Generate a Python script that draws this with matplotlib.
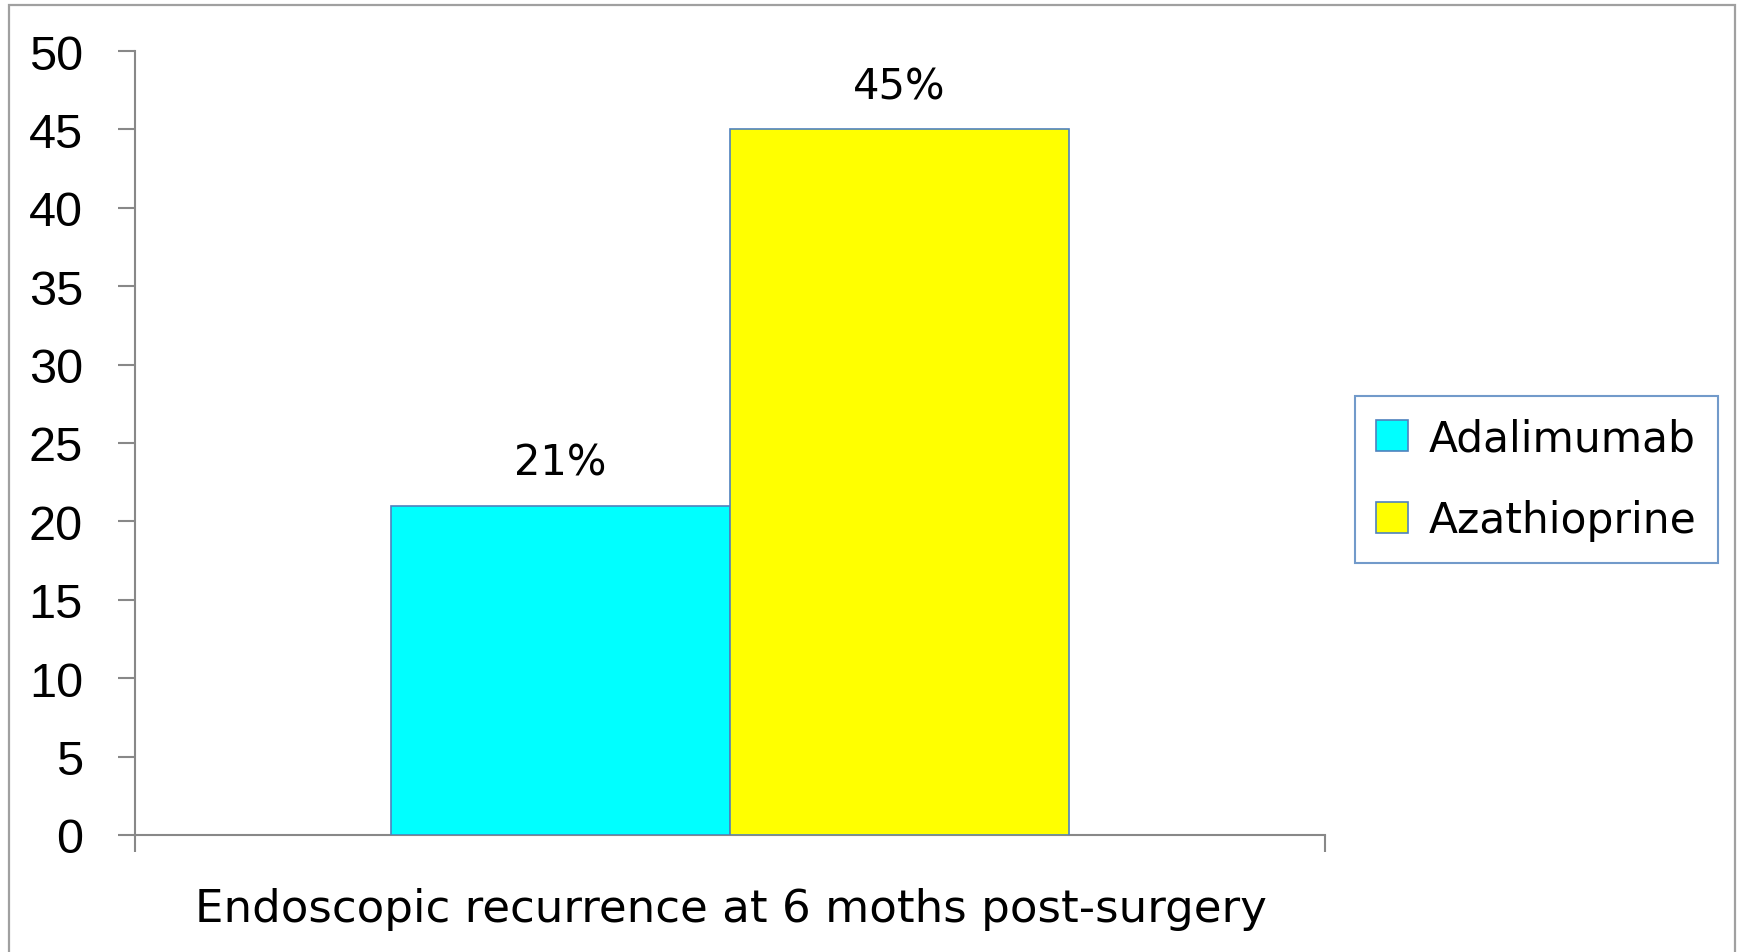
import matplotlib
matplotlib.use("Agg")
import matplotlib.pyplot as plt
from matplotlib.patches import Rectangle, Patch

categories = ["Endoscopic recurrence at 6 moths post-surgery"]
series_names = ["Adalimumab", "Azathioprine"]
series_values = [21, 45]
value_labels = ["21%", "45%"]
y_ticks = [0, 5, 10, 15, 20, 25, 30, 35, 40, 45, 50]

W, H = 1741, 953
fig = plt.figure(figsize=(W / 100, H / 100), dpi=100)
fig.patch.set_facecolor("white")

# outer chart frame
fig.patches.append(Rectangle((9 / W, -0.05), (1735 - 9) / W, 1.05 - 6 / H,
                             transform=fig.transFigure, fill=False,
                             edgecolor="#a0a0a0", linewidth=1.6))

ax = fig.add_axes([135 / W, (H - 836) / H, (1325 - 135) / W, (836 - 52) / H])
colors = ["#00ffff", "#ffff00"]
edge = "#4f81bd"
bar_w = 0.285
offsets = [-bar_w / 2, bar_w / 2]
for name, val, lab, col, off in zip(series_names, series_values, value_labels, colors, offsets):
    ax.bar(off, val, width=bar_w, color=col, edgecolor=edge, linewidth=1.2, label=name, zorder=3)
    ax.annotate(lab, (off, val), xytext=(0, 31), textcoords="offset points",
                ha="center", va="center", fontsize=30, family="DejaVu Sans")

ax.set_xlim(-0.5, 0.5)
ax.set_ylim(0, 50)
ax.set_yticks(y_ticks)
ax.set_yticklabels([str(t) for t in y_ticks], family="Liberation Sans", fontsize=35)
ax.set_xticks([-0.5, 0.5])
ax.set_xticklabels([])
for s in ["top", "right"]:
    ax.spines[s].set_visible(False)
for s in ["left", "bottom"]:
    ax.spines[s].set_color("#888888")
    ax.spines[s].set_linewidth(1.5)
ax.tick_params(axis="y", length=12.5, width=1.5, color="#888888", pad=25)
ax.tick_params(axis="x", length=12.5, width=1.5, color="#888888")

fig.text(731 / W, 1 - 910 / H, categories[0], ha="center", va="center",
         fontsize=32.5, family="DejaVu Sans")

handles = [Patch(facecolor=c, edgecolor=edge, linewidth=1.2) for c in colors]
leg = fig.legend(handles, series_names, loc="upper left",
                 bbox_to_anchor=(1355 / W, 1 - 397 / H), bbox_transform=fig.transFigure,
                 prop={"family": "DejaVu Sans", "size": 30.5}, frameon=True, fancybox=False,
                 handlelength=0.75, handleheight=0.75, handletextpad=0.5,
                 labelspacing=0.95, borderpad=0.5, borderaxespad=0)
leg.get_frame().set_edgecolor(edge)
leg.get_frame().set_linewidth(1.5)

fig.savefig("out.png", dpi=100, facecolor="white")
